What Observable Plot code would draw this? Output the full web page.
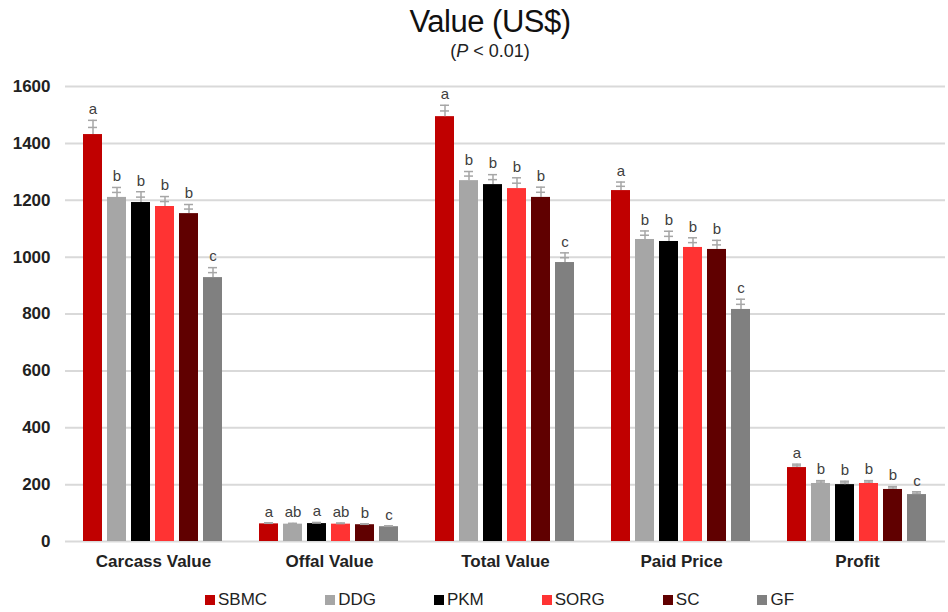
<!DOCTYPE html>
<html>
<head>
<meta charset="utf-8">
<script src="https://cdn.jsdelivr.net/npm/d3@7"></script>
<script src="https://cdn.jsdelivr.net/npm/@observablehq/plot@0.6"></script>
<style>
  body { margin: 0; background: #fff; font-family: "Liberation Sans", Arial, sans-serif; }
  #wrap { width: 948px; height: 612px; position: relative; }
  #title { height: 70px; text-align: center; padding-left: 32px; box-sizing: border-box; }
  #title .t { font-size: 31px; color: #111; padding-top: 4px; line-height: 36px; letter-spacing: -0.5px; }
  #title .s { font-size: 18px; color: #222; line-height: 22px; }
  #legend { display: flex; justify-content: flex-start; gap: 58px; padding-left: 205px; font-size: 17px; color: #222; margin-top: 10px; }
  #legend .item { display: flex; align-items: center; }
  #legend .sw { width: 10px; height: 10px; margin-right: 3px; }
  svg [aria-label^="fx-axis"] text { font-size: 17px; }
</style>
</head>
<body>
<div id="wrap">
  <div id="title">
    <div class="t">Value (US$)</div>
    <div class="s">(<i>P</i> &lt; 0.01)</div>
  </div>
  <div id="chart"></div>
  <div id="legend"></div>
</div>
<script>
const groups = ["Carcass Value", "Offal Value", "Total Value", "Paid Price", "Profit"];
const treatments = ["SBMC", "DDG", "PKM", "SORG", "SC", "GF"];
const colors = ["#c00000", "#a6a6a6", "#000000", "#ff3333", "#600000", "#808080"];
const yTicks = [0, 200, 400, 600, 800, 1000, 1200, 1400, 1600];

const carcassValue = [1431, 1210, 1192, 1178, 1153, 928];
const offalValue = [62, 61, 63, 61, 59, 52];
const totalValue = [1494, 1269, 1255, 1241, 1210, 981];
const paidPrice = [1234, 1062, 1055, 1034, 1027, 816];
const profit = [260, 204, 200, 204, 183, 165];

const carcassErr = [50, 35, 38, 35, 32, 35];
const offalErr = [4, 3, 4, 4, 3, 3];
const totalErr = [40, 32, 35, 38, 36, 34];
const paidErr = [30, 30, 36, 34, 32, 36];
const profitErr = [12, 10, 12, 10, 10, 10];

const carcassLetters = ["a", "b", "b", "b", "b", "c"];
const offalLetters = ["a", "ab", "a", "ab", "b", "c"];
const totalLetters = ["a", "b", "b", "b", "b", "c"];
const paidLetters = ["a", "b", "b", "b", "b", "c"];
const profitLetters = ["a", "b", "b", "b", "b", "c"];

const series = [
  [carcassValue, carcassErr, carcassLetters],
  [offalValue, offalErr, offalLetters],
  [totalValue, totalErr, totalLetters],
  [paidPrice, paidErr, paidLetters],
  [profit, profitErr, profitLetters]
];
const data = [];
groups.forEach((g, gi) => {
  const [vals, errs, lets] = series[gi];
  treatments.forEach((t, ti) => {
    data.push({group: g, treatment: t, value: vals[ti], err: errs[ti], letter: lets[ti]});
  });
});

const ff = {fx: "group", x: "treatment"};
const chart = Plot.plot({
  width: 948,
  height: 510,
  marginTop: 16,
  marginBottom: 39,
  marginLeft: 65,
  marginRight: 3,
  style: {fontFamily: "'Liberation Sans', Arial, sans-serif", fontSize: "17px", fontWeight: "bold", color: "#222", background: "#fff"},
  fx: {domain: groups, padding: 0, label: null, tickSize: 0, tickPadding: 13},
  x: {domain: treatments, axis: null, paddingInner: 0.19, paddingOuter: 0.76},
  y: {domain: [0, 1600], ticks: yTicks, tickFormat: d3.format("d"), label: null, tickSize: 0, tickPadding: 15},
  color: {domain: treatments, range: colors},
  marks: [
    Plot.ruleY(yTicks, {stroke: "#d9d9d9", strokeWidth: 2}),
    Plot.barY(data, {...ff, y: "value", fill: "treatment"}),
    Plot.ruleX(data, {...ff, y1: "value", y2: d => d.value + d.err, stroke: "#a6a6a6", strokeWidth: 1.5}),
    Plot.tickY(data, {...ff, y: d => d.value + d.err, stroke: "#a6a6a6", strokeWidth: 1.5, insetLeft: 5, insetRight: 5}),
    Plot.tickY(data, {...ff, y: d => d.value + d.err / 2, stroke: "#a6a6a6", strokeWidth: 1.5, insetLeft: 5, insetRight: 5}),
    Plot.text(data, {...ff, y: d => d.value + d.err, text: "letter", dy: -11, fontSize: 15, fontWeight: "normal", fill: "#404040"})
  ]
});
document.getElementById("chart").appendChild(chart);

const legend = document.getElementById("legend");
treatments.forEach((t, i) => {
  const item = document.createElement("div");
  item.className = "item";
  const sw = document.createElement("span");
  sw.className = "sw";
  sw.style.background = colors[i];
  const lab = document.createElement("span");
  lab.textContent = t;
  item.appendChild(sw);
  item.appendChild(lab);
  legend.appendChild(item);
});
</script>
</body>
</html>
